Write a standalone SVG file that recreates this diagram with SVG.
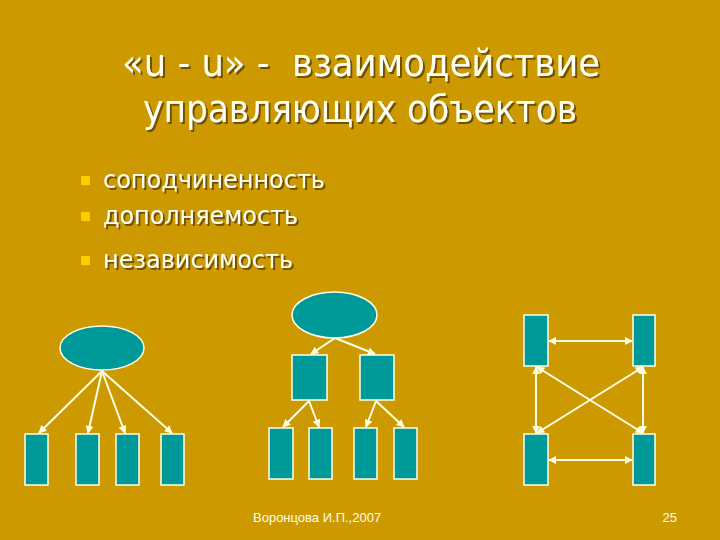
<svg xmlns="http://www.w3.org/2000/svg" width="720" height="540" viewBox="0 0 720 540">
<defs>
<filter id="sh" x="-5%" y="-20%" width="110%" height="140%">
<feDropShadow dx="2" dy="2" stdDeviation="0.6" flood-color="#5a3c00" flood-opacity="0.8"/>
</filter>
<marker id="ah" viewBox="0 0 10 10" refX="9" refY="5" markerWidth="8" markerHeight="8" markerUnits="userSpaceOnUse" orient="auto-start-reverse">
<path d="M0,0 L10,5 L0,10 z" fill="#FFFFE6"/>
</marker>
</defs>
<style>
.t{font-family:"DejaVu Sans","Verdana",sans-serif;fill:#FFFFF0;white-space:pre}
.title{font-size:38px}
.item{font-size:25px}
.foot{font-family:"Liberation Sans",Arial,sans-serif;font-size:13px;fill:#FFFFE6}
.n{fill:#009999;stroke:#FFFFE6;stroke-width:1.5}
.c line{stroke:#FFFFE6;stroke-width:2}
.one{marker-end:url(#ah)}
.two{marker-start:url(#ah);marker-end:url(#ah)}
</style>
<rect width="720" height="540" fill="#CC9900"/>
<g id="title" filter="url(#sh)">
<text class="t title" x="361" y="76" text-anchor="middle" textLength="478" lengthAdjust="spacingAndGlyphs" xml:space="preserve">«u - u» -  взаимодействие</text>
<text class="t title" x="360" y="122" text-anchor="middle" textLength="434" lengthAdjust="spacingAndGlyphs">управляющих объектов</text>
</g>
<g id="bullets">
<rect x="81" y="176" width="9" height="9" fill="#FFCC00"/>
<rect x="81" y="212" width="9" height="9" fill="#FFCC00"/>
<rect x="81" y="256" width="9" height="9" fill="#FFCC00"/>
<g filter="url(#sh)">
<text class="t item" x="103" y="188" textLength="222" lengthAdjust="spacingAndGlyphs">соподчиненность</text>
<text class="t item" x="103" y="224" textLength="195" lengthAdjust="spacingAndGlyphs">дополняемость</text>
<text class="t item" x="103" y="268" textLength="190" lengthAdjust="spacingAndGlyphs">независимость</text>
</g>
</g>
<g id="tree1">
<ellipse id="t1-root" class="n" cx="102" cy="348" rx="42" ry="22"/>
<rect id="t1-a" class="n" x="25" y="434" width="23" height="51"/>
<rect id="t1-b" class="n" x="76" y="434" width="23" height="51"/>
<rect id="t1-c" class="n" x="116" y="434" width="23" height="51"/>
<rect id="t1-d" class="n" x="161" y="434" width="23" height="51"/>
</g>
<g id="tree2">
<ellipse id="t2-root" class="n" cx="334.5" cy="315" rx="42.5" ry="23"/>
<rect id="t2-a" class="n" x="292" y="355" width="35" height="45"/>
<rect id="t2-b" class="n" x="360" y="355" width="34" height="45"/>
<rect id="t2-a1" class="n" x="269" y="428" width="24" height="51"/>
<rect id="t2-a2" class="n" x="309" y="428" width="23" height="51"/>
<rect id="t2-b1" class="n" x="354" y="428" width="23" height="51"/>
<rect id="t2-b2" class="n" x="394" y="428" width="23" height="51"/>
</g>
<g id="net">
<rect id="n-tl" class="n" x="524" y="315" width="24" height="51"/>
<rect id="n-tr" class="n" x="633" y="315" width="22" height="51"/>
<rect id="n-bl" class="n" x="524" y="434" width="24" height="51"/>
<rect id="n-br" class="n" x="633" y="434" width="22" height="51"/>
</g>
<g id="connectors" class="c">
<line class="one" x1="102" y1="371" x2="39" y2="433"/>
<line class="one" x1="102" y1="371" x2="88" y2="433"/>
<line class="one" x1="102" y1="371" x2="125" y2="433"/>
<line class="one" x1="102" y1="371" x2="172" y2="433"/>
<line class="one" x1="335" y1="338" x2="311" y2="354"/>
<line class="one" x1="335" y1="338" x2="375" y2="354"/>
<line class="one" x1="309" y1="401" x2="283" y2="427"/>
<line class="one" x1="309" y1="401" x2="319" y2="427"/>
<line class="one" x1="376" y1="401" x2="366" y2="427"/>
<line class="one" x1="376" y1="401" x2="404" y2="427"/>
<line class="two" x1="549" y1="341" x2="632" y2="341"/>
<line class="two" x1="549" y1="460" x2="632" y2="460"/>
<line class="two" x1="536" y1="367" x2="536" y2="433"/>
<line class="two" x1="643" y1="367" x2="643" y2="433"/>
<line class="two" x1="537" y1="367" x2="643" y2="433"/>
<line class="two" x1="643" y1="367" x2="537" y2="433"/>
</g>
<g id="footer">
<text class="foot" x="253" y="522">Воронцова И.П.,2007</text>
<text class="foot" x="677" y="522" text-anchor="end">25</text>
</g>
</svg>
